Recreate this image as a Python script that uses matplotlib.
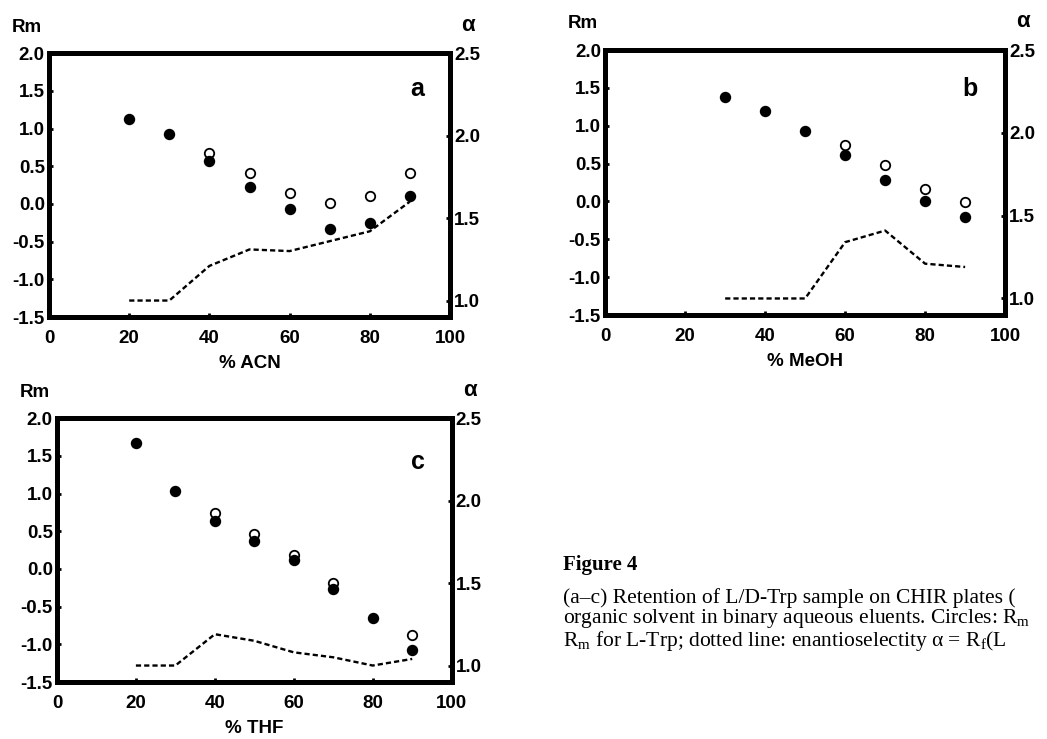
import matplotlib
matplotlib.use("Agg")
import matplotlib.pyplot as plt

# percentages of organic modifier
pct_acn = [20, 30, 40, 50, 60, 70, 80, 90]
pct_meoh = [30, 40, 50, 60, 70, 80, 90]
pct_thf = [20, 30, 40, 50, 60, 70, 80, 90]

# Rm for L-Trp (filled circles)
rm_l_acn = [1.13, 0.93, 0.57, 0.23, -0.07, -0.33, -0.25, 0.10]
rm_l_meoh = [1.38, 1.19, 0.93, 0.61, 0.28, 0.00, -0.20]
rm_l_thf = [1.67, 1.03, 0.64, 0.37, 0.12, -0.26, -0.65, -1.08]

# Rm for D-Trp (open circles), only where they separate
pct_d_acn = [40, 50, 60, 70, 80, 90]
rm_d_acn = [0.68, 0.41, 0.15, 0.01, 0.10, 0.41]
pct_d_meoh = [60, 70, 80, 90]
rm_d_meoh = [0.75, 0.48, 0.16, -0.01]
pct_d_thf = [40, 50, 60, 70, 90]
rm_d_thf = [0.74, 0.47, 0.18, -0.19, -0.88]

# enantioselectivity alpha (dotted line)
alpha_acn = [1.0, 1.0, 1.21, 1.31, 1.30, 1.36, 1.42, 1.60]
alpha_meoh = [1.0, 1.0, 1.0, 1.34, 1.41, 1.21, 1.19]
alpha_thf = [1.0, 1.0, 1.19, 1.15, 1.08, 1.05, 1.0, 1.04]

plt.rcParams["font.family"] = ["Liberation Sans", "DejaVu Sans"]
plt.rcParams["font.weight"] = "bold"

fig = plt.figure(figsize=(10.47, 7.39), dpi=100)


def panel(rect, x, rm_l, xd, rm_d, alpha, letter, xlabel, letter_pos):
    ax = fig.add_axes(rect)
    ax2 = ax.twinx()
    ax.plot(x, rm_l, "o", color="black", markersize=7.2, zorder=3)
    ax.plot(xd, rm_d, "o", mfc="white", mec="black", mew=1.3,
            markersize=6.8, zorder=2)
    ax2.plot(x, alpha, color="black", lw=1.7, linestyle=(0, (2.2, 1.3)))

    ax.set_xlim(0, 100)
    ax.set_ylim(-1.5, 2.0)
    ax2.set_ylim(0.9, 2.5)
    ax.set_xticks([0, 20, 40, 60, 80, 100])
    ax.set_yticks([-1.5, -1.0, -0.5, 0.0, 0.5, 1.0, 1.5, 2.0])
    ax.set_yticklabels(["-1.5", "-1.0", "-0.5", "0.0", "0.5", "1.0", "1.5", "2.0"])
    ax2.set_yticks([1.0, 1.5, 2.0, 2.5])
    ax2.set_yticklabels(["1.0", "1.5", "2.0", "2.5"])

    for a in (ax, ax2):
        for s in a.spines.values():
            s.set_linewidth(3.6)
        a.tick_params(axis="y", direction="in", length=3, width=2,
                      labelsize=13.5, pad=3)
    ax.tick_params(axis="x", direction="in", length=3, width=2,
                   labelsize=13.5, pad=9)
    ax.set_xlabel(xlabel, fontsize=13.5, fontweight="bold", labelpad=6)

    ax.text(letter_pos[0], letter_pos[1], letter, fontsize=18,
            ha="center", va="center")
    ax.text(-0.017, 1.099, "Rm", transform=ax.transAxes, fontsize=13.5,
            ha="right", va="center")
    ax.text(1.045, 1.106, "\u03b1", transform=ax.transAxes, fontsize=16,
            ha="center", va="center")
    return ax


panel([0.0468, 0.571, 0.383, 0.357], pct_acn, rm_l_acn, pct_d_acn, rm_d_acn,
      alpha_acn, "a", "% ACN", (91.8, 1.52))
panel([0.578, 0.5737, 0.382, 0.3586], pct_meoh, rm_l_meoh, pct_d_meoh, rm_d_meoh,
      alpha_meoh, "b", "% MeOH", (91.3, 1.48))
panel([0.0544, 0.0771, 0.377, 0.357], pct_thf, rm_l_thf, pct_d_thf, rm_d_thf,
      alpha_thf, "c", "% THF", (91.4, 1.42))

# caption (the original page cuts it at the right edge)
serif = ["Liberation Serif", "DejaVu Serif"]
fig.text(563 / 1047, 1 - 565 / 739, "Figure 4", family=serif,
         fontsize=15, fontweight="bold", ha="left", va="center")
cap_lines = [
    "(a\u2013c) Retention of L/D-Trp sample on CHIR plates (",
    "organic solvent in binary aqueous eluents. Circles: R$_{\\mathregular{m}}$",
    "R$_{\\mathregular{m}}$ for L-Trp; dotted line: enantioselectity \u03b1 = R$_{\\mathregular{f}}$(L",
]
fig.text(563 / 1047, 1 - 588 / 739, "\n".join(cap_lines), family=serif,
         fontsize=15.5, fontweight="normal", ha="left", va="top",
         linespacing=0.95)

fig.savefig("out.png", dpi=100)
